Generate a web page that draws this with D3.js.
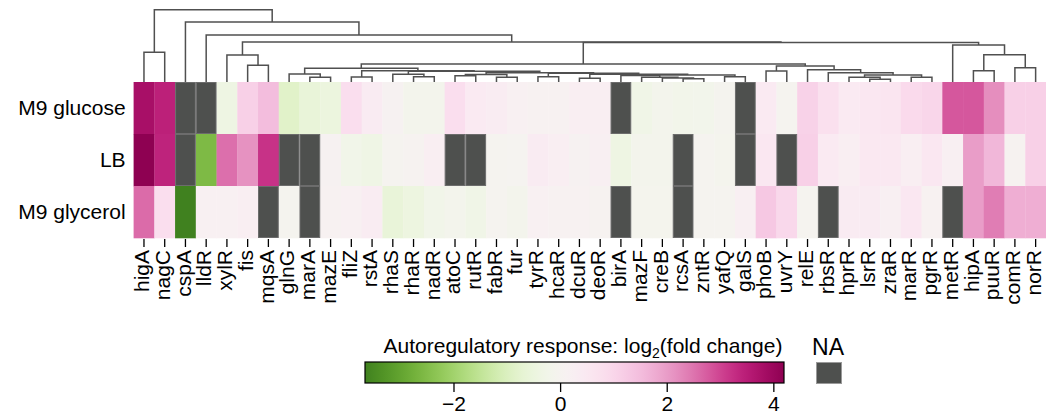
<!DOCTYPE html>
<html>
<head>
<meta charset="utf-8">
<script src="https://cdn.jsdelivr.net/npm/d3@7"></script>
<style>
  body { margin: 0; background: #fff; }
  text { font-family: "Liberation Sans", Arial, sans-serif; fill: #000; }
</style>
</head>
<body>
<div id="chart"></div>
<script>
// genes in dendrogram order
var genes = ["higA","nagC","cspA","lldR","xylR","fis","mqsA","glnG","marA","mazE",
  "fliZ","rstA","rhaS","rhaR","nadR","atoC","rutR","fabR","fur","tyrR","hcaR","dcuR",
  "deoR","birA","mazF","creB","rcsA","zntR","yafQ","galS","phoB","uvrY","relE","rbsR",
  "hprR","lsrR","zraR","marR","pgrR","metR","hipA","puuR","comR","norR"];
var conditions = ["M9 glucose", "LB", "M9 glycerol"];

// log2 fold change, null = NA
var glucose = [3.8,3.45,null,null,-0.4,1.15,1.5,-0.85,-0.6,-0.5,
  0.8,0.4,0.1,-0.15,-0.12,0.8,0.45,0.35,0.2,0.15,0.15,0.3,
  0.3,null,-0.3,-0.15,-0.2,-0.18,-0.05,null,0.45,0.0,1.1,0.75,
  0.45,0.55,0.6,0.9,1.0,2.8,2.8,2.2,1.15,1.15];
var lb = [4.2,3.4,null,-2.55,2.55,2.15,3.2,null,null,0.1,
  -0.25,-0.35,0.0,0.05,0.3,null,null,0.0,0.02,0.4,0.3,0.1,
  0.25,-0.4,-0.12,-0.12,null,0.0,-0.1,null,0.55,null,1.15,0.45,
  0.3,0.5,0.5,0.3,0.55,0.25,2.0,1.6,0.05,1.15];
var glycerol = [2.6,0.8,-3.66,0.2,0.2,0.3,null,-0.05,null,0.15,
  0.2,0.35,-0.6,-0.45,-0.25,-0.15,-0.3,-0.02,-0.15,0.2,0.15,0.15,
  0.05,null,-0.08,-0.08,null,0.0,0.0,0.25,1.3,0.95,0.0,null,
  0.4,0.4,0.25,0.55,0.15,null,2.0,2.4,1.75,1.75];

// linkage: [left, right, height]
var rightClust = ["metR", [["hipA","puuR",11.3], ["comR","norR",14.3], 27.3], 37];
var relGroup = ["relE", ["rbsR", [["hprR",["lsrR","zraR",2.7],4.7], ["marR","pgrR",4.7], 7], 9.3], 12.3];
var birGroup = ["birA", ["mazF", ["creB", ["rcsA","zntR",3.3], 4], 4.7], 6.5];
var midRight = [[["atoC","rutR",6.3], ["fabR","fur",4.7], 7.5],
  [["tyrR","hcaR",5.3], [["dcuR","deoR",3.7], [birGroup, ["yafQ","galS",5.3], 7], 7.7], 8.7], 9.3];
var midLeft = [["glnG",["marA","mazE",4.7],8],
  [["fliZ","rstA",5], [["rhaS",["rhaR","nadR",5.3],7.7], midRight, 10.7], 11.3], 13.7];
var bigClust = [midLeft, [["phoB","uvrY",11], relGroup, 16], 18];
var tree = [["higA","nagC",29.7],
  ["cspA", ["lldR", [["xylR",["fis","mqsA",16.7],27], [bigClust, rightClust, 39.5], 40], 47], 60], 72.3];

var cbTicks = [-2, 0, 2, 4];
var vmin = -3.66, vmax = 4.2;

var W = 1046, H = 419;
var heat = {left: 133.6, right: 1046, top: 82, bottom: 238};

var svg = d3.select("#chart").append("svg")
  .attr("width", W).attr("height", H);

var rows = [glucose, lb, glycerol];

var x = d3.scaleBand().domain(genes).range([heat.left, heat.right]);
var y = d3.scaleBand().domain(conditions).range([heat.top, heat.bottom]);

var vrange = Math.max(Math.abs(vmin), Math.abs(vmax));
function color(v) { return d3.interpolatePiYG(0.5 - v / (2 * vrange)); }

// heatmap cells
var cells = [];
rows.forEach(function(r, i) {
  r.forEach(function(v, j) { cells.push({cond: conditions[i], gene: genes[j], v: v}); });
});

svg.append("g").selectAll("rect")
  .data(cells.filter(d => d.v !== null))
  .enter().append("rect")
  .attr("x", d => x(d.gene))
  .attr("y", d => y(d.cond))
  .attr("width", x.bandwidth() + 0.3)
  .attr("height", y.bandwidth() + 0.3)
  .attr("fill", d => color(d.v));

svg.append("g").selectAll("rect")
  .data(cells.filter(d => d.v === null))
  .enter().append("rect")
  .attr("x", d => x(d.gene) + 0.5)
  .attr("y", d => y(d.cond) + 0.5)
  .attr("width", x.bandwidth() - 1)
  .attr("height", y.bandwidth() - 1)
  .attr("fill", "#4e504e")
  .attr("stroke", "#6c6c6c")
  .attr("stroke-width", 1);

// dendrogram
var hy = d3.scaleLinear().domain([0, tree[2]]).range([heat.top, 9.7]);
var dendro = svg.append("g")
  .attr("fill", "none")
  .attr("stroke", "#505050")
  .attr("stroke-width", 1.5);

function drawNode(node) {
  if (typeof node === "string") return {x: x(node) + x.bandwidth() / 2, h: 0};
  var l = drawNode(node[0]), r = drawNode(node[1]);
  var h = node[2];
  dendro.append("path")
    .attr("d", "M" + l.x + "," + hy(l.h) + "V" + hy(h) + "H" + r.x + "V" + hy(r.h));
  return {x: (l.x + r.x) / 2, h: h};
}
drawNode(tree);

// gene ticks and labels
var xAxis = svg.append("g");
xAxis.selectAll("line")
  .data(genes).enter().append("line")
  .attr("x1", d => x(d) + x.bandwidth() / 2)
  .attr("x2", d => x(d) + x.bandwidth() / 2)
  .attr("y1", heat.bottom + 1)
  .attr("y2", heat.bottom + 9)
  .attr("stroke", "#000")
  .attr("stroke-width", 1.3);

xAxis.selectAll("text")
  .data(genes).enter().append("text")
  .attr("transform", d => "translate(" + (x(d) + x.bandwidth() / 2) + "," + (heat.bottom + 12) + ") rotate(-90)")
  .attr("text-anchor", "end")
  .attr("dy", "0.25em")
  .attr("font-size", "21px")
  .text(d => d);

// row labels
svg.append("g").selectAll("text")
  .data(conditions).enter().append("text")
  .attr("x", heat.left - 8)
  .attr("y", d => y(d) + y.bandwidth() / 2)
  .attr("dy", "0.35em")
  .attr("text-anchor", "end")
  .attr("font-size", "21px")
  .text(d => d);

// colorbar
var cb = {left: 365, right: 784, top: 362, height: 21};
var cbScale = d3.scaleLinear().domain([vmin, vmax]).range([cb.left, cb.right]);

var grad = svg.append("defs").append("linearGradient")
  .attr("id", "cbgrad").attr("x1", "0%").attr("x2", "100%");
d3.range(0, 1.0001, 0.02).forEach(function(t) {
  grad.append("stop")
    .attr("offset", (t * 100) + "%")
    .attr("stop-color", color(vmin + t * (vmax - vmin)));
});

svg.append("rect")
  .attr("x", cb.left).attr("y", cb.top)
  .attr("width", cb.right - cb.left).attr("height", cb.height)
  .attr("fill", "url(#cbgrad)")
  .attr("stroke", "#000").attr("stroke-width", 1.2);

var cbAxis = svg.append("g")
  .attr("transform", "translate(0," + (cb.top + cb.height) + ")")
  .call(d3.axisBottom(cbScale).tickValues(cbTicks).tickSize(9).tickPadding(4)
    .tickFormat(d => d < 0 ? "\u2212" + Math.abs(d) : d));
cbAxis.select(".domain").remove();
cbAxis.selectAll("line").attr("stroke-width", 1.3);
cbAxis.selectAll("text").attr("font-size", "21px")
  .attr("font-family", "Liberation Sans, Arial, sans-serif");

var title = svg.append("text")
  .attr("x", 583).attr("y", 353)
  .attr("text-anchor", "middle")
  .attr("font-size", "21px");
title.append("tspan").text("Autoregulatory response: log");
title.append("tspan").attr("font-size", "14px").attr("dy", "5").text("2");
title.append("tspan").attr("dy", "-5").text("(fold change)");

// NA legend
svg.append("text")
  .attr("x", 828).attr("y", 355)
  .attr("text-anchor", "middle")
  .attr("font-size", "23px")
  .text("NA");
svg.append("rect")
  .attr("x", 816.5).attr("y", 362.5)
  .attr("width", 25).attr("height", 21)
  .attr("fill", "#4e504e")
  .attr("stroke", "#9a9a9a")
  .attr("stroke-width", 1);
</script>
</body>
</html>
